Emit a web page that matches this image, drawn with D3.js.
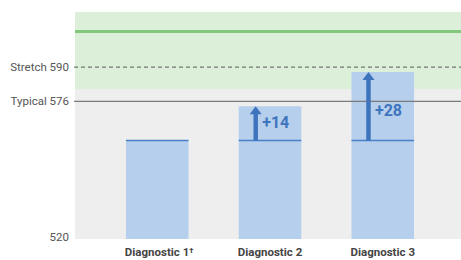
<!DOCTYPE html>
<html>
<head>
<meta charset="utf-8">
<script src="https://cdn.jsdelivr.net/npm/d3@7/dist/d3.min.js"></script>
<style>
  html, body { margin: 0; padding: 0; background: #ffffff; }
  svg { display: block; font-family: Roboto, "Noto Sans", sans-serif; }
</style>
</head>
<body>
<svg id="chart" width="461" height="260"></svg>
<script>
// ---- data ----
const categories = ["Diagnostic 1", "Diagnostic 2", "Diagnostic 3"];
const categoryNotes = ["\u2020", "", ""];
const baseScores = [560, 560, 560];
const scores = [560, 574, 588];
const gains = [0, 14, 28];
const yDomain = [520, 612.5];
const refLines = [
  { label: "Stretch 590", value: 590, dashed: true },
  { label: "Typical 576", value: 576, dashed: false }
];
const axisTickLabels = ["520"];
const axisTickValues = [520];
const greenBand = [581, 612.5];
const greenLineValue = 604.5;

// ---- layout ----
const svg = d3.select("#chart");
const plot = { left: 75, right: 461, top: 12, bottom: 238.5 };

const y = d3.scaleLinear().domain(yDomain).range([plot.bottom, plot.top]);
const x = d3.scaleBand().domain(categories)
  .range([100, 440]).paddingInner(0.445).paddingOuter(0.23);

// background
svg.append("rect")
  .attr("x", plot.left).attr("y", plot.top)
  .attr("width", plot.right - plot.left).attr("height", plot.bottom - plot.top + 0.5)
  .attr("fill", "#eeeeee");

// green band
svg.append("rect")
  .attr("x", plot.left).attr("y", y(greenBand[1]))
  .attr("width", plot.right - plot.left)
  .attr("height", y(greenBand[0]) - y(greenBand[1]))
  .attr("fill", "#dcefd9");

svg.append("line")
  .attr("x1", plot.left).attr("x2", plot.right)
  .attr("y1", y(greenLineValue)).attr("y2", y(greenLineValue))
  .attr("stroke", "#84c77f").attr("stroke-width", 3);

// bars
categories.forEach((c, i) => {
  const bx = x(c), bw = x.bandwidth();
  svg.append("rect")
    .attr("x", bx).attr("y", y(scores[i]))
    .attr("width", bw).attr("height", y(yDomain[0]) - y(scores[i]) + 0.5)
    .attr("fill", "#b5cfec");
  svg.append("line")
    .attr("x1", bx).attr("x2", bx + bw)
    .attr("y1", y(baseScores[i])).attr("y2", y(baseScores[i]))
    .attr("stroke", "#4a80c8").attr("stroke-width", 1.5);
});

// reference lines
refLines.forEach(r => {
  svg.append("line")
    .attr("x1", plot.left - 1).attr("x2", plot.right)
    .attr("y1", y(r.value)).attr("y2", y(r.value))
    .attr("stroke", r.dashed ? "#777777" : "#7a7a7a")
    .attr("stroke-width", r.dashed ? 1.3 : 1.2)
    .attr("stroke-dasharray", r.dashed ? "4,3" : null);
  svg.append("text")
    .attr("x", 69).attr("y", y(r.value))
    .attr("dy", "0.35em")
    .attr("text-anchor", "end")
    .attr("font-size", 11.5)
    .attr("fill", "#555555")
    .text(r.label);
});

axisTickValues.forEach((v, i) => {
  svg.append("text")
    .attr("x", 69).attr("y", y(v) + 2.2)
    .attr("text-anchor", "end")
    .attr("font-size", 11.5)
    .attr("fill", "#555555")
    .text(axisTickLabels[i]);
});

// arrows & gain labels
const arrowColor = "#3d74bd";
categories.forEach((c, i) => {
  if (!gains[i]) return;
  const bx = x(c);
  const ax = bx + 17;
  const yBase = y(baseScores[i]);
  const yTop = y(scores[i]);
  svg.append("line")
    .attr("x1", ax).attr("x2", ax)
    .attr("y1", yBase).attr("y2", yTop + 7)
    .attr("stroke", arrowColor).attr("stroke-width", 4.5);
  svg.append("path")
    .attr("d", `M${ax - 6},${yTop + 8} L${ax},${yTop} L${ax + 6},${yTop + 8} Z`)
    .attr("fill", arrowColor);
  svg.append("text")
    .attr("x", bx + 23.5)
    .attr("y", y(baseScores[i] + gains[i] * 0.355))
    .attr("font-size", 16)
    .attr("font-weight", "bold")
    .attr("fill", arrowColor)
    .text("+" + gains[i]);
});

// x labels
categories.forEach((c, i) => {
  const t = svg.append("text")
    .attr("x", x(c) + x.bandwidth() / 2 + (categoryNotes[i] ? 2 : 0))
    .attr("y", 255.5)
    .attr("text-anchor", "middle")
    .attr("font-size", 11.5)
    .attr("font-weight", "bold")
    .attr("fill", "#444444");
  t.append("tspan").text(c);
  if (categoryNotes[i]) {
    t.append("tspan")
      .attr("font-size", 8)
      .attr("dy", -2.5)
      .text(categoryNotes[i]);
  }
});
</script>
</body>
</html>
